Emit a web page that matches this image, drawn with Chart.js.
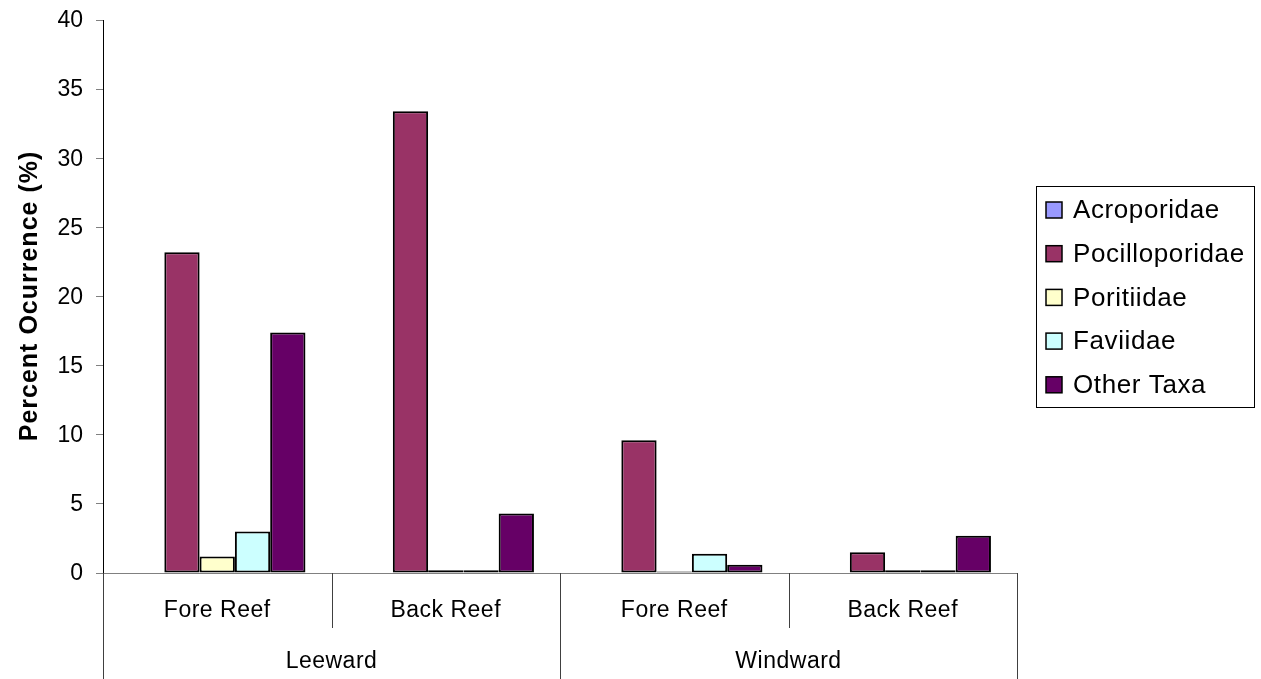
<!DOCTYPE html>
<html>
<head>
<meta charset="utf-8">
<script src="https://cdn.jsdelivr.net/npm/chart.js@4.4.0/dist/chart.umd.min.js"></script>
<style>
  html, body { margin: 0; padding: 0; background: #fff; }
  #wrap { width: 1261px; height: 679px; position: relative; }
</style>
</head>
<body>
<div id="wrap"><canvas id="reefChart"></canvas></div>
<script>
// site / zone labels
var zones = ['Fore Reef', 'Back Reef', 'Fore Reef', 'Back Reef'];
var sides = ['Leeward', 'Windward'];

// percent occurrence per family
var acroporidae    = [0, 0, 0, 0];
var pocilloporidae = [23.2, 33.4, 9.6, 1.5];
var poritiidae     = [1.2, 0.2, 0.1, 0.2];
var faviidae       = [3.0, 0.2, 1.4, 0.2];
var otherTaxa      = [17.4, 4.3, 0.6, 2.7];

var yTicks = [0, 5, 10, 15, 20, 25, 30, 35, 40];

var FONT = '"Liberation Sans", Arial, sans-serif';

function makeSet(label, values, color) {
  return {
    label: label,
    data: values,
    backgroundColor: color,
    borderColor: '#000',
    borderWidth: 2,
    borderSkipped: false,
    categoryPercentage: 0.772,
    barPercentage: 1.0
  };
}

// draws y labels, the two-level category axis and the boxed legend
var reefExtras = {
  id: 'reefExtras',
  afterDraw: function (chart) {
    var ctx = chart.ctx;
    var area = chart.chartArea;
    var xs = chart.scales.x;
    var ys = chart.scales.y;
    var base = area.bottom;
    var px = zones.map(function (z, i) { return xs.getPixelForValue(i); });
    var step = px[1] - px[0];

    ctx.save();
    ctx.fillStyle = '#000';
    ctx.font = '23px ' + FONT;
    ctx.textAlign = 'right';
    ctx.textBaseline = 'middle';
    yTicks.forEach(function (v) {
      ctx.fillText(String(v), area.left - 20, ys.getPixelForValue(v) + 1);
    });

    // category axis line
    ctx.strokeStyle = '#808080';
    ctx.lineWidth = 1;
    ctx.beginPath();
    ctx.moveTo(area.left, base + 0.5);
    ctx.lineTo(area.right, base + 0.5);
    ctx.stroke();

    // dividers
    ctx.strokeStyle = '#404040';
    ctx.beginPath();
    [1, 3].forEach(function (i) {
      var x = Math.round(px[i] - step / 2) + 0.5;
      ctx.moveTo(x, base);
      ctx.lineTo(x, base + 55);
    });
    [area.left, px[2] - step / 2, area.right].forEach(function (v) {
      var x = Math.round(v) + 0.5;
      ctx.moveTo(x, base);
      ctx.lineTo(x, chart.height);
    });
    ctx.stroke();

    ctx.textAlign = 'center';
    ctx.letterSpacing = '0.5px';
    px.forEach(function (x, i) { ctx.fillText(zones[i], x, base + 38); });
    sides.forEach(function (s, g) {
      ctx.fillText(s, (px[g * 2] + px[g * 2 + 1]) / 2, base + 89);
    });

    // y axis title
    ctx.save();
    ctx.translate(30, 296);
    ctx.rotate(-Math.PI / 2);
    ctx.font = 'bold 25px ' + FONT;
    ctx.letterSpacing = '1px';
    ctx.fillText('Percent Ocurrence (%)', 0, 0);
    ctx.restore();

    // legend
    var lx = 1036, ly = 186, lw = 218, lh = 221;
    ctx.strokeStyle = '#000';
    ctx.strokeRect(lx + 0.5, ly + 0.5, lw, lh);
    ctx.font = '26px ' + FONT;
    ctx.letterSpacing = '0.6px';
    ctx.textAlign = 'left';
    chart.data.datasets.forEach(function (ds, i) {
      var cy = 210 + i * 43.7;
      ctx.fillStyle = ds.backgroundColor;
      ctx.fillRect(1046, cy - 8, 16, 16);
      ctx.strokeStyle = '#000';
      ctx.lineWidth = 1.5;
      ctx.strokeRect(1046, cy - 8, 16, 16);
      ctx.fillStyle = '#000';
      ctx.fillText(ds.label, 1073, cy + 1);
    });
    ctx.restore();
  }
};

new Chart(document.getElementById('reefChart'), {
  type: 'bar',
  data: {
    labels: zones,
    datasets: [
      makeSet('Acroporidae', acroporidae, '#9999FF'),
      makeSet('Pocilloporidae', pocilloporidae, '#993366'),
      makeSet('Poritiidae', poritiidae, '#FFFFCC'),
      makeSet('Faviidae', faviidae, '#CCFFFF'),
      makeSet('Other Taxa', otherTaxa, '#660066')
    ]
  },
  options: {
    responsive: true,
    maintainAspectRatio: false,
    animation: false,
    layout: { padding: { top: 20, right: 244, bottom: 0, left: 0 } },
    plugins: {
      legend: { display: false },
      tooltip: { enabled: false }
    },
    scales: {
      x: {
        grid: { display: false },
        border: { display: false },
        ticks: { display: false },
        afterFit: function (scale) { scale.height = 106; }
      },
      y: {
        min: 0,
        max: 40,
        afterBuildTicks: function (scale) {
          scale.ticks = yTicks.map(function (v) { return { value: v }; });
        },
        grid: { drawOnChartArea: false, drawTicks: true, tickLength: 7, color: '#808080' },
        border: { display: true, color: '#000', width: 1 },
        ticks: { display: false },
        afterFit: function (scale) { scale.width = 103; }
      }
    }
  },
  plugins: [reefExtras]
});
</script>
</body>
</html>
